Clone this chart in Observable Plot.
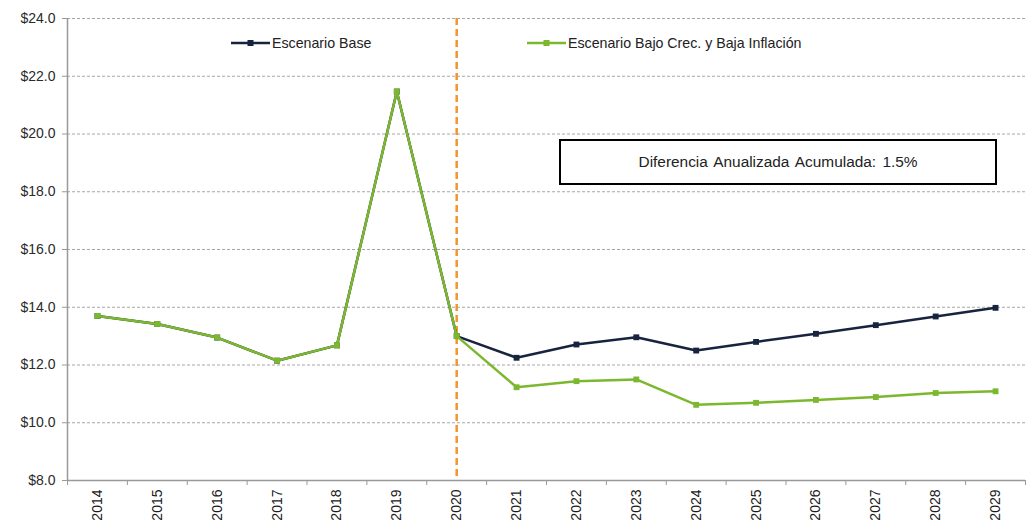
<!DOCTYPE html>
<html>
<head>
<meta charset="utf-8">
<script src="https://cdn.jsdelivr.net/npm/d3@7"></script>
<script src="https://cdn.jsdelivr.net/npm/@observablehq/plot@0.6"></script>
<style>
  html, body { margin: 0; padding: 0; background: #fff; }
  #wrap { position: relative; width: 1031px; height: 525px; font-family: "Liberation Sans", Arial, sans-serif; }
  .legend { position: absolute; top: 35px; font-size: 14.2px; color: #222; display: flex; align-items: center; white-space: nowrap; }
  .legend svg { margin-right: 2px; }
  #note { position: absolute; left: 559px; top: 139px; width: 434px; height: 42px; border: 2px solid #000; display: flex; align-items: center; justify-content: center; font-size: 15.4px; color: #222; word-spacing: 2px; background: #fff; }
</style>
</head>
<body>
<div id="wrap"></div>
<script>
const years = [2014,2015,2016,2017,2018,2019,2020,2021,2022,2023,2024,2025,2026,2027,2028,2029];
const baseValues = [13.70,13.42,12.95,12.15,12.68,21.47,13.00,12.25,12.71,12.96,12.50,12.80,13.08,13.38,13.68,13.98];
const lowValues  = [13.70,13.42,12.95,12.15,12.68,21.47,13.00,11.23,11.44,11.50,10.62,10.69,10.79,10.89,11.03,11.09];
const yTicks = [8,10,12,14,16,18,20,22,24];
const seriesNames = ["Escenario Base", "Escenario Bajo Crec. y Baja Inflación"];
const colors = ["#17233f", "#7cb82f"];
const noteText = "Diferencia Anualizada Acumulada:  1.5%";
const markerYear = 2020;

const base = years.map((y, i) => ({year: y, value: baseValues[i]}));
const low = years.map((y, i) => ({year: y, value: lowValues[i]}));
const boundaries = d3.range(years[0] - 0.5, years[years.length - 1] + 1, 1);

const font = '"Liberation Sans", Arial, sans-serif';

const chart = Plot.plot({
  width: 1031,
  height: 525,
  marginLeft: 67,
  marginRight: 6,
  marginTop: 18,
  marginBottom: 45,
  style: {fontFamily: font, fontSize: "13.5px", color: "#333", background: "#fff"},
  x: {domain: [years[0] - 0.5, years[years.length - 1] + 0.5], axis: null, label: null},
  y: {domain: [8, 24], axis: null, label: null},
  marks: [
    Plot.ruleY(yTicks.filter(d => d > 8), {stroke: "#a6a6a6", strokeDasharray: "3,2", strokeWidth: 1}),
    Plot.axisY({ticks: yTicks, tickSize: 5, tickPadding: 7, stroke: "#999", tickFormat: d => "$" + d.toFixed(1), fill: "#2a2a2a", fontSize: 14, label: null}),
    Plot.axisX({ticks: boundaries, tickSize: 5, tickFormat: () => "", stroke: "#999", label: null}),
    Plot.axisX({ticks: years, tickSize: 0, tickFormat: d => String(d), tickRotate: -90, tickPadding: 9, fill: "#1a1a1a", fontSize: 14, label: null}),
    Plot.ruleX([years[0] - 0.5], {stroke: "#999", strokeWidth: 1.5}),
    Plot.ruleY([8], {stroke: "#999", strokeWidth: 1.5}),
    Plot.ruleX([markerYear], {stroke: "#f2952f", strokeWidth: 2.5, strokeDasharray: "7,4"}),
    Plot.line(base, {x: "year", y: "value", stroke: colors[0], strokeWidth: 2.5}),
    Plot.dot(base, {x: "year", y: "value", symbol: "square", r: 3.3, fill: colors[0]}),
    Plot.line(low, {x: "year", y: "value", stroke: colors[1], strokeWidth: 2.5}),
    Plot.dot(low, {x: "year", y: "value", symbol: "square", r: 3.3, fill: colors[1]})
  ]
});

const wrap = document.getElementById("wrap");
wrap.appendChild(chart);

function legendItem(left, color, name) {
  const div = document.createElement("div");
  div.className = "legend";
  div.style.left = left + "px";
  div.innerHTML = `<svg width="39" height="10"><line x1="0" x2="39" y1="5" y2="5" stroke="${color}" stroke-width="2.5"/><rect x="16.5" y="2" width="6" height="6" fill="${color}"/></svg><span>${name}</span>`;
  wrap.appendChild(div);
}
legendItem(231, colors[0], seriesNames[0]);
legendItem(527, colors[1], seriesNames[1]);

const note = document.createElement("div");
note.id = "note";
note.textContent = noteText;
wrap.appendChild(note);
</script>
</body>
</html>
